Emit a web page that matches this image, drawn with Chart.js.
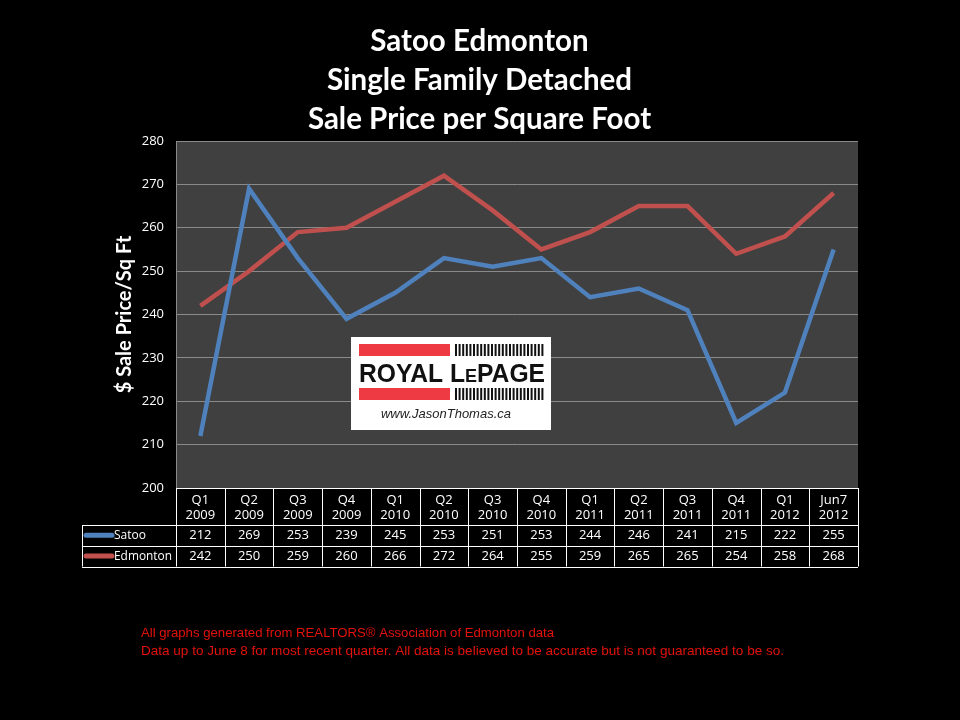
<!DOCTYPE html>
<html>
<head>
<meta charset="utf-8">
<script src="https://cdn.jsdelivr.net/npm/chart.js@4.4.1/dist/chart.umd.min.js"></script>
<style>
  html, body { margin: 0; background: #000; }
  #wrap { width: 960px; height: 720px; }
</style>
</head>
<body>
<div id="wrap"><canvas id="priceChart" width="960" height="720"></canvas></div>
<script>
// data
const quarters = [
  ['Q1', '2009'], ['Q2', '2009'], ['Q3', '2009'], ['Q4', '2009'],
  ['Q1', '2010'], ['Q2', '2010'], ['Q3', '2010'], ['Q4', '2010'],
  ['Q1', '2011'], ['Q2', '2011'], ['Q3', '2011'], ['Q4', '2011'],
  ['Q1', '2012'], ['Jun7', '2012']
];
const satoo = [212, 269, 253, 239, 245, 253, 251, 253, 244, 246, 241, 215, 222, 255];
const edmonton = [242, 250, 259, 260, 266, 272, 264, 255, 259, 265, 265, 254, 258, 268];
const yMin = 200, yMax = 280, yStep = 10;

const titleLines = ['Satoo Edmonton', 'Single Family Detached', 'Sale Price per Square Foot'];
const yTitle = '$ Sale Price/Sq Ft';
const notes = [
  'All graphs generated from REALTORS\u00AE Association of Edmonton data',
  'Data up to June 8 for most recent quarter. All data is believed to be accurate but is not guaranteed to be so.'
];

const BLUE = '#4f81bd';
const RED = '#c0504d';

// text squeezed / stretched to a given width (Calibri-like look)
function fitText(ctx, txt, x, y, width) {
  const w = ctx.measureText(txt).width;
  ctx.save();
  ctx.translate(x, y);
  ctx.scale(width / w, 1);
  ctx.fillText(txt, 0, 0);
  ctx.restore();
}

// dark plot background + logo (drawn under the lines)
const plotBg = {
  id: 'plotBg',
  beforeDraw(chart) {
    const { ctx, chartArea: a } = chart;
    ctx.save();
    ctx.fillStyle = '#404040';
    ctx.fillRect(a.left, a.top, a.right - a.left, a.bottom - a.top);
    ctx.restore();
  },
  beforeDatasetsDraw(chart) {
    const { ctx, chartArea: a } = chart;
    const lx = a.left + 175, ly = a.top + 196;
    ctx.save();
    ctx.fillStyle = '#fff';
    ctx.fillRect(lx, ly, 200, 93);
    // red bars + barcode stripes
    ctx.fillStyle = '#ed3a43';
    ctx.fillRect(lx + 8, ly + 7, 91, 12);
    ctx.fillRect(lx + 8, ly + 51, 91, 12);
    ctx.fillStyle = '#111';
    for (let s = lx + 104; s < lx + 194; s += 3.6) {
      ctx.fillRect(s, ly + 7, 2, 12);
      ctx.fillRect(s, ly + 51, 2, 12);
    }
    // ROYAL LePAGE wordmark
    ctx.fillStyle = '#111';
    ctx.textBaseline = 'alphabetic';
    const big = 'bold 26px "Liberation Sans"', small = 'bold 19px "Liberation Sans"';
    const parts = [['ROYAL L', big], ['E', small], ['PAGE', big]];
    let w = 0;
    parts.forEach(p => { ctx.font = p[1]; w += ctx.measureText(p[0]).width; });
    const sx = 186 / w;
    ctx.translate(lx + 8, ly + 45);
    ctx.scale(sx, 1);
    let cx = 0;
    parts.forEach(p => { ctx.font = p[1]; ctx.fillText(p[0], cx, 0); cx += ctx.measureText(p[0]).width; });
    ctx.restore();
    ctx.save();
    ctx.fillStyle = '#222';
    ctx.font = 'italic 13px "Liberation Sans"';
    ctx.textAlign = 'center';
    ctx.textBaseline = 'middle';
    ctx.fillText('www.JasonThomas.ca', lx + 95, ly + 77, 146);
    ctx.restore();
  }
};

// data table under the plot + footnote
const dataTable = {
  id: 'dataTable',
  afterDraw(chart) {
    const { ctx, chartArea: a, scales: { x } } = chart;
    const n = quarters.length;
    const colW = (a.right - a.left) / n;
    const tableLeft = 82;
    const y0 = a.bottom, y1 = y0 + 37, y2 = y1 + 20.5, y3 = y2 + 21;
    ctx.save();
    ctx.strokeStyle = '#fff';
    ctx.lineWidth = 1;
    const line = (xa, ya, xb, yb) => { ctx.beginPath(); ctx.moveTo(xa, ya); ctx.lineTo(xb, yb); ctx.stroke(); };
    line(a.left, y0 + 0.5, a.right, y0 + 0.5);
    [y1, y2, y3].forEach(y => line(tableLeft, Math.round(y) + 0.5, a.right, Math.round(y) + 0.5));
    for (let i = 0; i <= n; i++) {
      const xb = Math.round(a.left + i * colW) + 0.5;
      line(xb, y0, xb, y3);
    }
    line(tableLeft + 0.5, y1, tableLeft + 0.5, y3);

    const rows = [['Satoo', satoo, BLUE, (y1 + y2) / 2, 32], ['Edmonton', edmonton, RED, (y2 + y3) / 2, 58]];
    ctx.fillStyle = '#fff';
    ctx.font = '13px "Open Sans"';
    ctx.textBaseline = 'middle';
    rows.forEach(([name, vals, col, ym, nameW]) => {
      ctx.textAlign = 'center';
      vals.forEach((v, i) => ctx.fillText(String(v), x.getPixelForValue(i), ym));
      ctx.strokeStyle = col;
      ctx.lineWidth = 5;
      ctx.lineCap = 'round';
      line(tableLeft + 4, ym, tableLeft + 30, ym);
      ctx.textAlign = 'left';
      fitText(ctx, name, tableLeft + 32, ym, nameW);
    });

    ctx.fillStyle = '#e3120b';
    ctx.font = '13px "Liberation Sans"';
    ctx.textAlign = 'left';
    fitText(ctx, notes[0], 141, 633, 413);
    fitText(ctx, notes[1], 141, 651, 643);
    ctx.restore();
  }
};

new Chart(document.getElementById('priceChart'), {
  type: 'line',
  data: {
    labels: quarters,
    datasets: [
      { label: 'Satoo', data: satoo, borderColor: BLUE, backgroundColor: BLUE, borderWidth: 4.5, pointRadius: 0, tension: 0 },
      { label: 'Edmonton', data: edmonton, borderColor: RED, backgroundColor: RED, borderWidth: 4.5, pointRadius: 0, tension: 0 }
    ]
  },
  options: {
    responsive: false,
    animation: false,
    devicePixelRatio: 1,
    layout: { padding: { left: 101, right: 102, top: 0, bottom: 192 } },
    plugins: {
      legend: { display: false },
      tooltip: { enabled: false },
      title: {
        display: true,
        text: titleLines,
        color: '#fff',
        font: { family: 'Lato', size: 29.5, weight: 'bold', lineHeight: 39 / 29.5 },
        padding: { top: 21.5, bottom: 2.5 }
      }
    },
    scales: {
      x: {
        offset: true,
        grid: { display: false, drawTicks: false },
        border: { display: false },
        ticks: { color: '#fff', font: { family: 'Open Sans', size: 13 }, padding: 4, maxRotation: 0, autoSkip: false },
        afterFit(axis) { axis.height = 40; }
      },
      y: {
        min: yMin,
        max: yMax,
        ticks: { stepSize: yStep, color: '#fff', font: { family: 'Open Sans', size: 13 }, padding: 12 },
        grid: { color: '#8a8a8a', drawTicks: false, lineWidth: 1 },
        border: { color: '#8a8a8a' },
        title: { display: true, text: yTitle, color: '#fff', font: { family: 'Lato', size: 20, weight: 'bold' }, padding: { top: 12, bottom: 4 } },
        afterFit(axis) { axis.width = 75; }
      }
    }
  },
  plugins: [plotBg, dataTable]
});
</script>
</body>
</html>
